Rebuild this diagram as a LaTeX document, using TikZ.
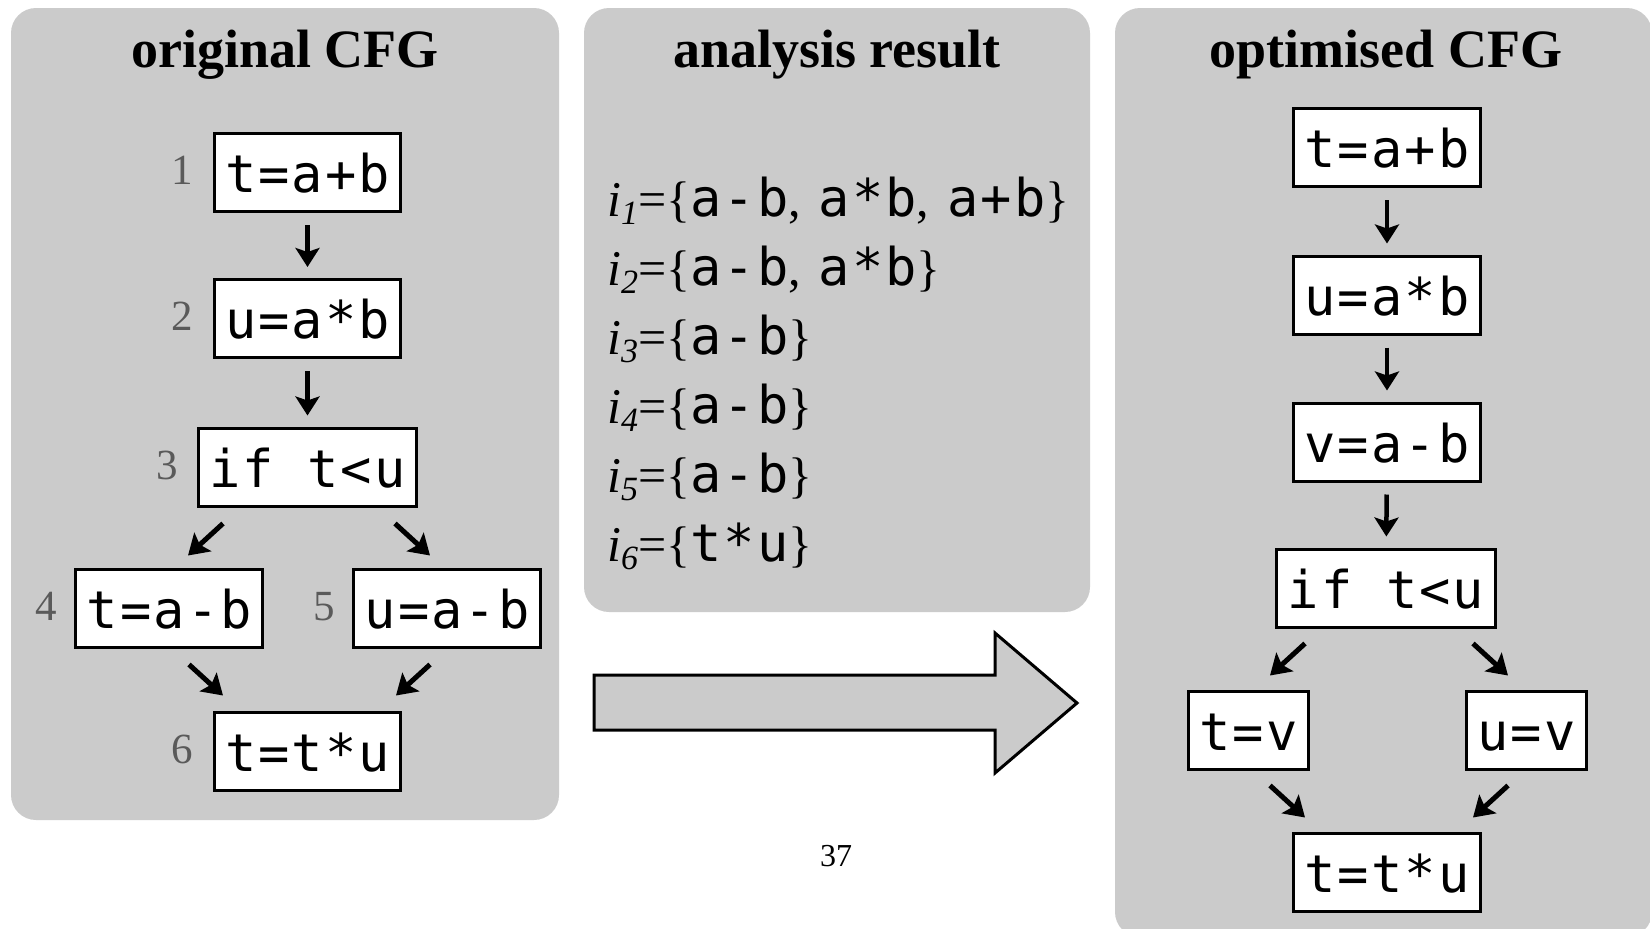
\documentclass[tikz,border=0pt]{standalone}
\usepackage{fontspec}
\setmainfont{Liberation Serif}
\setmonofont[LetterSpace=4]{DejaVu Sans Mono}
\usetikzlibrary{arrows.meta,calc}
\definecolor{panel}{RGB}{203,203,203}
\definecolor{lblgray}{RGB}{90,90,90}
\newcommand\isub[1]{\textit{i}\raisebox{-8pt}{\fontsize{34}{34}\selectfont\itshape #1}}
\newcommand\tok[1]{{\fontsize{52}{60}\selectfont\ttfamily #1}}
\newcommand\anasep{,\hspace{18pt}}
\begin{document}
\begin{tikzpicture}[x=1pt,y=-1pt,
  panelbox/.style={fill=panel, rounded corners=25pt},
  title/.style={anchor=base, inner sep=0pt, font=\fontsize{54}{60}\selectfont\bfseries},
  cfgbox/.style={draw=black, fill=white, line width=3pt, inner xsep=11pt, inner ysep=0pt,
    minimum height=78pt, text height=40pt, text depth=0pt,
    font=\fontsize{52}{60}\selectfont\ttfamily},
  lbl/.style={anchor=east, text=lblgray, inner sep=0pt, font=\fontsize{43}{46}\selectfont},
  edge/.style={line width=5pt, -{Stealth[length=20pt,width=25pt,inset=4pt]}},
  vedge/.style={line width=4.5pt, -{Stealth[length=19pt,width=24pt,inset=4pt]}, shorten <=12pt, shorten >=11pt},
  anal/.style={anchor=base west, inner sep=0pt, font=\fontsize{50}{60}\selectfont}
]
\useasboundingbox (0,0) rectangle (1650,929);

% panels
\fill[panelbox] (11,8) rectangle (559,820);
\fill[panelbox] (584,8) rectangle (1090,612);
\fill[panelbox] (1115,8) rectangle (1652,937);

% titles
\node[title] (t1) at (285,67) {original CFG};
\node[title] (t2) at (837,67) {analysis result};
\node[title] (t3) at (1386,67) {optimised CFG};

% original CFG
\node[cfgbox] (n1) at (307.5,172.5) {t=a+b};
\node[cfgbox] (n2) at (307.5,318.5) {u=a*b};
\node[cfgbox] (n3) at (307.5,467) {if t<u};
\node[cfgbox] (n4) at (169.4,608.5) {t=a-b};
\node[cfgbox] (n5) at (447.3,608.5) {u=a-b};
\node[cfgbox] (n6) at (307.5,751) {t=t*u};

\node[lbl] (l1) at ([xshift=-19pt,yshift=2pt]n1.west) {1};
\node[lbl] (l2) at ([xshift=-19pt,yshift=2pt]n2.west) {2};
\node[lbl] (l3) at ([xshift=-19pt,yshift=2pt]n3.west) {3};
\node[lbl] (l4) at ([xshift=-17pt,yshift=2pt]n4.west) {4};
\node[lbl] (l5) at ([xshift=-17pt,yshift=2pt]n5.west) {5};
\node[lbl] (l6) at ([xshift=-19pt,yshift=2pt]n6.west) {6};

\draw[vedge] (n1) -- (n2);
\draw[vedge] (n2) -- (n3);
\draw[edge] ($(n3.south)+(-84.5,16)$) -- ($(n4.north)+(18.6,-12.5)$);
\draw[edge] ($(n3.south)+(87.5,16)$) -- ($(n5.north)+(-17.3,-12.5)$);
\draw[edge] ($(n4.south)+(19.6,15.5)$) -- ($(n6.north)+(-84.5,-15)$);
\draw[edge] ($(n5.south)+(-17.3,15.5)$) -- ($(n6.north)+(88.5,-15)$);

% analysis result
\node[anal] (a1) at (607,216) {\isub{1}=\{\tok{a-b}\anasep\tok{a*b}\anasep\tok{a+b}\}};
\node[anal] (a2) at (607,285) {\isub{2}=\{\tok{a-b}\anasep\tok{a*b}\}};
\node[anal] (a3) at (607,354) {\isub{3}=\{\tok{a-b}\}};
\node[anal] (a4) at (607,423) {\isub{4}=\{\tok{a-b}\}};
\node[anal] (a5) at (607,492) {\isub{5}=\{\tok{a-b}\}};
\node[anal] (a6) at (607,561) {\isub{6}=\{\tok{t*u}\}};

% big arrow
\draw[line width=3pt, fill=panel, line join=miter]
  (594,675) -- (995,675) -- (995,633) -- (1077,703) -- (995,773) -- (995,730) -- (594,730) -- cycle;

% page number
\node (pg) at (836,856) {\fontsize{32}{36}\selectfont 37};

% optimised CFG
\node[cfgbox] (r1) at (1387,147.5) {t=a+b};
\node[cfgbox] (r2) at (1387,295) {u=a*b};
\node[cfgbox] (r3) at (1387,442) {v=a-b};
\node[cfgbox] (r4) at (1386,588) {if t<u};
\node[cfgbox] (r5) at (1248.5,730) {t=v};
\node[cfgbox] (r6) at (1526.5,730) {u=v};
\node[cfgbox] (r7) at (1387,872) {t=t*u};

\draw[vedge] (r1) -- (r2);
\draw[vedge] (r2) -- (r3);
\draw[vedge] (r3) -- (r4);
\draw[edge] ($(r4.south)+(-81,15)$) -- ($(r5.north)+(21.5,-14)$);
\draw[edge] ($(r4.south)+(87,15)$) -- ($(r6.north)+(-18.5,-14)$);
\draw[edge] ($(r5.south)+(21.5,15)$) -- ($(r7.north)+(-82,-14)$);
\draw[edge] ($(r6.south)+(-18.5,15)$) -- ($(r7.north)+(86,-14)$);
\end{tikzpicture}
\end{document}
